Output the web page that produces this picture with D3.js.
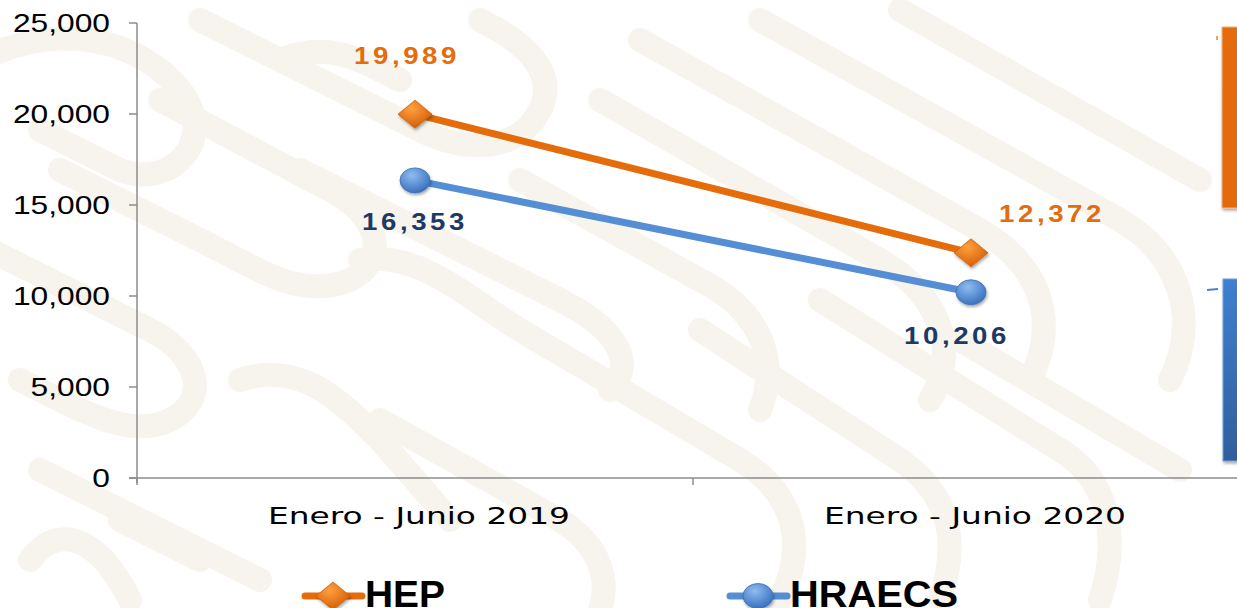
<!DOCTYPE html>
<html><head><meta charset="utf-8">
<script src="https://cdn.jsdelivr.net/npm/d3@7"></script>
<style>html,body{margin:0;padding:0;background:#fff;}svg{display:block;}</style>
</head><body>
<script>
const categories = ["Enero - Junio 2019", "Enero - Junio 2020"];
const hepValues = [19989, 12372];
const hraecsValues = [16353, 10206];
const yTicks = [0, 5000, 10000, 15000, 20000, 25000];
const seriesNames = ["HEP", "HRAECS"];

const W = 1237, H = 608;
const svg = d3.select("body").append("svg").attr("width", W).attr("height", H);
const defs = svg.append("defs");

// background watermark motif (decorative)
const bg = svg.append("g").attr("fill", "none").attr("stroke", "#f7f4ee").attr("stroke-width", 24).attr("stroke-linecap", "round");
const deco = [
  "M-20,60 C60,20 140,40 180,90 C220,140 170,190 120,170 L40,130",
  "M160,100 L330,190 C380,215 390,260 350,280 C300,300 260,270 200,240 L60,170",
  "M-10,250 L150,330 C200,355 210,400 170,420 C130,440 80,410 20,380",
  "M40,470 L260,580 M120,520 L200,560",
  "M200,20 L420,130 C470,155 520,150 540,110 C560,70 520,40 480,20",
  "M300,170 L560,300 C610,325 640,360 610,390",
  "M360,260 C420,250 470,300 520,330 L740,460 C790,490 810,540 780,600",
  "M520,180 L700,280 C760,310 780,360 760,410",
  "M600,100 L880,260 C940,295 960,350 930,400",
  "M640,40 L980,230 C1040,265 1060,320 1030,380",
  "M760,20 L1120,220 C1180,255 1200,320 1170,380",
  "M900,10 L1200,180",
  "M700,330 L900,460 C950,495 960,540 940,600",
  "M820,300 L1060,450 C1110,480 1120,540 1100,600",
  "M960,340 L1180,470",
  "M380,420 L560,520 C600,545 610,580 600,610",
  "M240,380 C300,360 340,400 380,440 L450,520",
  "M30,560 C60,520 100,540 130,600",
  "M280,60 C330,40 360,60 400,80"
];
bg.selectAll("path").data(deco).join("path").attr("d", d => d);

// gradients
function radial(id, c0, c1) {
  const g = defs.append("radialGradient").attr("id", id).attr("cx", "40%").attr("cy", "30%").attr("r", "70%");
  g.append("stop").attr("offset", "0%").attr("stop-color", c0);
  g.append("stop").attr("offset", "100%").attr("stop-color", c1);
}
radial("gOrange", "#ffa040", "#d35f05");
radial("gBlue", "#8fbcf0", "#3a72c0");
const lgO = defs.append("linearGradient").attr("id", "barO").attr("x1", 0).attr("y1", 0).attr("x2", 0).attr("y2", 1);
lgO.append("stop").attr("offset", "0%").attr("stop-color", "#e56c0b");
lgO.append("stop").attr("offset", "100%").attr("stop-color", "#e26a0a");
const lgB = defs.append("linearGradient").attr("id", "barB").attr("x1", 0).attr("y1", 0).attr("x2", 0).attr("y2", 1);
lgB.append("stop").attr("offset", "0%").attr("stop-color", "#3f7fd0");
lgB.append("stop").attr("offset", "100%").attr("stop-color", "#2f5f9c");
const f = defs.append("filter").attr("id", "shadow").attr("x", "-50%").attr("y", "-50%").attr("width", "200%").attr("height", "200%");
f.append("feDropShadow").attr("dx", 1).attr("dy", 2).attr("stdDeviation", 1.5).attr("flood-color", "#000").attr("flood-opacity", 0.35);

const y = d3.scaleLinear().domain([0, 25000]).range([478, 23]);
const x = d3.scaleBand().domain(categories).range([137, 1249]).padding(0);

// partial bars of adjacent chart at the right edge (decorative)
svg.append("rect").attr("x", 1222).attr("y", 27).attr("width", 20).attr("height", 181).attr("fill", "url(#barO)").attr("stroke", "#f7b27a").attr("stroke-width", 1).attr("filter", "url(#shadow)");
svg.append("rect").attr("x", 1223).attr("y", 279).attr("width", 20).attr("height", 182).attr("fill", "url(#barB)").attr("stroke", "#6fa0e0").attr("stroke-width", 1).attr("filter", "url(#shadow)");
svg.append("line").attr("x1", 1217).attr("y1", 36).attr("x2", 1217).attr("y2", 40).attr("stroke", "#f2a060").attr("stroke-width", 2);
svg.append("line").attr("x1", 1207).attr("y1", 290).attr("x2", 1218).attr("y2", 289).attr("stroke", "#4a80cc").attr("stroke-width", 2);

function sText(g, txt, px, py, sx, opts) {
  const t = g.append("text").attr("transform", `translate(${px},${py}) scale(${sx},1)`).text(txt);
  for (const k in opts) t.attr(k, opts[k]);
  return t;
}

// axes
const axisColor = "#8c8c8c";
const ax = svg.append("g");
ax.append("line").attr("x1", 137).attr("x2", 137).attr("y1", y(25000)).attr("y2", y(0) + 5).attr("stroke", axisColor).attr("stroke-width", 1.5);
ax.append("line").attr("x1", 129).attr("x2", W).attr("y1", y(0)).attr("y2", y(0)).attr("stroke", axisColor).attr("stroke-width", 1.5);
ax.selectAll(".yt").data(yTicks).join("line").attr("x1", 129).attr("x2", 137).attr("y1", d => y(d)).attr("y2", d => y(d)).attr("stroke", axisColor).attr("stroke-width", 1.5);
const xTickPos = [x.range()[0], x(categories[1]), x.range()[1]];
ax.selectAll(".xt").data(xTickPos).join("line").attr("x1", d => d).attr("x2", d => d).attr("y1", y(0)).attr("y2", y(0) + 7).attr("stroke", axisColor).attr("stroke-width", 1.5);
const fmt = d3.format(",");
yTicks.forEach(v => sText(ax, fmt(v), 110, y(v) + 9, 1.27, {"text-anchor": "end", "font-family": "Liberation Sans, Arial, sans-serif", "font-size": 25, "fill": "#000"}));
categories.forEach(c => {
  ax.append("text").attr("x", x(c) + x.bandwidth() / 2 - 150 + 3).attr("y", 524)
    .attr("font-family", "DejaVu Sans, Verdana, sans-serif").attr("font-size", 23).attr("fill", "#000")
    .attr("textLength", 302).attr("lengthAdjust", "spacingAndGlyphs").text(c);
});

// series
const orange = "#e46c0a", blue = "#558ed5";
const series = [
  {name: seriesNames[0], values: hepValues, color: orange, marker: "diamond", labelColor: "#e46c0a", legendW: 80},
  {name: seriesNames[1], values: hraecsValues, color: blue, marker: "circle", labelColor: "#1b3a66", legendW: 168}
];
const cx = c => x(c) + x.bandwidth() / 2;
const line = d3.line().x(d => cx(d.c)).y(d => y(d.v));

function marker(g, type, px, py) {
  if (type === "diamond") {
    g.append("path").attr("d", `M${px - 17},${py} L${px},${py - 14} L${px + 17},${py} L${px},${py + 14} Z`)
      .attr("fill", "url(#gOrange)").attr("stroke", "#d0600a").attr("stroke-width", 0.8).attr("filter", "url(#shadow)");
  } else {
    g.append("ellipse").attr("cx", px).attr("cy", py).attr("rx", 15).attr("ry", 12.5)
      .attr("fill", "url(#gBlue)").attr("stroke", "#3c6fb5").attr("stroke-width", 0.8).attr("filter", "url(#shadow)");
  }
}

series.forEach(s => {
  const pts = categories.map((c, i) => ({c, v: s.values[i]}));
  svg.append("path").datum(pts).attr("d", line).attr("fill", "none").attr("stroke", s.color).attr("stroke-width", 7);
  const g = svg.append("g");
  pts.forEach(p => marker(g, s.marker, cx(p.c), y(p.v)));
});

// data labels
const labelPos = [
  {s: 0, i: 0, dx: -8, dy: -50},
  {s: 0, i: 1, dx: 81, dy: -31},
  {s: 1, i: 0, dx: 0, dy: 50},
  {s: 1, i: 1, dx: -14, dy: 52}
];
const lg = svg.append("g");
labelPos.forEach(l => {
  const s = series[l.s];
  sText(lg, fmt(s.values[l.i]), cx(categories[l.i]) + l.dx, y(s.values[l.i]) + l.dy, 1.2,
    {"text-anchor": "middle", "font-family": "Liberation Sans, Arial, sans-serif", "font-size": 23, "font-weight": "bold", "letter-spacing": 3, "fill": s.labelColor});
});

// legend
const leg = svg.append("g");
const legItems = [{x: 305, s: series[0]}, {x: 730, s: series[1]}];
legItems.forEach(it => {
  leg.append("line").attr("x1", it.x).attr("x2", it.x + 57).attr("y1", 596).attr("y2", 596).attr("stroke", it.s.color).attr("stroke-width", 7).attr("stroke-linecap", "round");
  marker(leg, it.s.marker, it.x + 28, 596);
  leg.append("text").attr("x", it.x + 60).attr("y", 607)
    .attr("font-family", "Liberation Sans, Arial, sans-serif").attr("font-size", 37).attr("font-weight", "bold").attr("fill", "#000")
    .attr("textLength", it.s.legendW).attr("lengthAdjust", "spacingAndGlyphs").text(it.s.name);
});
</script>
</body></html>
